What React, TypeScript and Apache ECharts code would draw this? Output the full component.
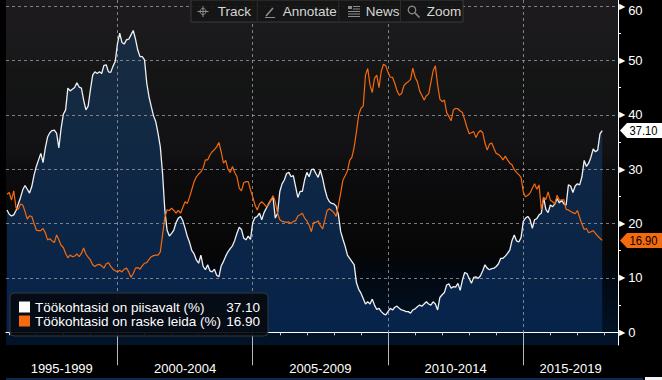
import React, { useEffect, useRef } from 'react';
import * as echarts from 'echarts';

// monthly observations, first one = Dec 1995
const startYear = 1995 + 11 / 12;

const piisavalt = [
  22.5, 21.7, 21.4, 21.6, 22.4, 23.6, 24.8, 26.2, 27.0, 26.3,
  25.6, 26.8, 28.9, 30.5, 31.7, 32.9, 31.2, 33.9, 35.9, 36.7,
  37.1, 37.2, 36.6, 33.9, 37.5, 40.1, 40.9, 44.9, 44.4, 44.7,
  45.0, 45.9, 45.1, 44.9, 42.7, 40.9, 41.6, 44.6, 47.3, 47.9,
  47.6, 47.9, 47.6, 49.1, 49.2, 47.9, 47.8, 48.9, 49.8, 53.1,
  55.0, 53.3, 53.0, 53.8, 53.9, 54.7, 55.5, 53.9, 51.9, 50.7,
  50.7, 50.1, 45.8, 43.3, 41.5, 39.8, 38.7, 36.6, 34.1, 29.2,
  22.5, 18.8, 17.7, 18.2, 18.8, 20.2, 21.0, 21.3, 20.5, 19.1,
  17.6, 16.5, 15.0, 14.4, 13.3, 12.7, 14.2, 12.1, 11.5, 12.4,
  11.3, 11.1, 11.6, 10.5, 10.2, 12.2, 13.0, 14.0, 14.8, 15.4,
  15.9, 16.9, 18.2, 19.3, 18.9, 17.3, 17.0, 17.7, 17.1, 20.2,
  21.1, 21.3, 21.9, 20.7, 22.0, 22.8, 23.6, 24.3, 24.8, 21.0,
  21.9, 25.9, 27.3, 28.0, 29.2, 29.4, 28.6, 28.8, 26.8, 24.8,
  25.9, 25.9, 28.0, 29.4, 28.6, 29.9, 30.0, 29.2, 28.5, 29.8,
  28.3, 26.3, 24.8, 24.0, 23.7, 23.6, 23.2, 21.6, 18.5, 17.1,
  15.8, 14.2, 13.6, 13.0, 12.4, 9.1, 7.9, 7.2, 6.2, 5.2,
  5.6, 5.2, 6.1, 5.0, 4.2, 4.4, 3.8, 3.4, 3.2, 3.8,
  4.4, 4.1, 4.6, 4.8, 4.4, 4.1, 4.0, 3.8, 3.8, 3.5,
  4.1, 4.3, 4.7, 5.0, 4.8, 5.2, 5.6, 5.2, 5.0, 5.6,
  5.2, 4.1, 6.4, 6.9, 7.3, 8.7, 8.9, 8.1, 8.4, 8.3,
  9.0, 7.7, 9.6, 11.0, 10.8, 9.9, 9.0, 10.1, 10.2, 9.9,
  10.4, 11.3, 12.4, 11.8, 11.5, 11.7, 11.8, 12.1, 12.6, 13.6,
  13.6, 14.0, 14.5, 15.1, 16.9, 17.9, 16.8, 16.6, 17.4, 20.4,
  21.0, 21.3, 20.7, 19.1, 20.7, 20.9, 21.6, 21.9, 24.8, 22.6,
  22.0, 23.4, 23.1, 23.6, 24.6, 23.8, 24.3, 23.6, 23.4, 27.1,
  26.9, 25.7, 26.9, 27.3, 27.1, 28.6, 31.6, 30.5, 31.1, 32.2,
  33.7, 33.2, 33.5, 36.5, 37.1,
];

const raskeLeida = [
  25.4, 25.7, 24.3, 26.0, 22.9, 22.6, 23.6, 23.4, 22.2, 20.8,
  21.4, 21.3, 20.0, 18.8, 18.7, 18.7, 19.1, 18.3, 17.0, 17.2,
  16.8, 16.5, 17.9, 17.0, 16.0, 15.6, 14.5, 13.7, 14.2, 13.9,
  14.0, 14.4, 13.9, 14.5, 15.5, 14.4, 13.8, 13.3, 12.4, 12.1,
  12.4, 12.5, 12.2, 11.8, 12.6, 12.8, 12.1, 11.6, 11.3, 11.1,
  11.4, 11.1, 11.6, 11.8, 11.1, 10.1, 10.8, 11.8, 11.9, 11.6,
  12.2, 12.7, 12.8, 13.4, 13.9, 14.1, 14.2, 14.2, 14.8, 17.9,
  21.1, 22.5, 22.4, 22.8, 22.4, 21.9, 22.4, 21.9, 23.0, 24.0,
  23.7, 24.9, 26.3, 27.7, 28.6, 29.1, 29.5, 30.2, 31.7, 31.7,
  32.6, 33.2, 33.6, 34.1, 34.9, 33.2, 31.1, 31.6, 30.0, 29.4,
  30.5, 29.4, 28.6, 26.5, 26.0, 27.5, 27.7, 27.7, 26.2, 24.9,
  23.4, 22.5, 23.6, 24.0, 23.6, 23.1, 23.4, 24.3, 25.1, 24.0,
  21.9, 20.7, 20.4, 20.3, 20.2, 20.3, 20.0, 20.4, 20.5, 21.4,
  21.6, 21.9, 21.0, 20.5, 19.7, 18.5, 20.2, 20.2, 20.5, 19.6,
  19.0, 20.7, 22.4, 22.7, 22.4, 22.0, 21.3, 23.4, 25.6, 28.0,
  28.8, 29.7, 31.6, 32.2, 34.1, 36.9, 40.0, 41.2, 41.6, 47.3,
  48.5, 45.5, 44.1, 46.7, 47.3, 45.0, 48.0, 49.3, 49.0, 47.8,
  46.9, 46.9, 45.8, 44.4, 43.6, 43.9, 45.3, 45.8, 46.1, 46.5,
  48.6, 46.9, 46.1, 44.4, 43.6, 42.7, 43.5, 43.8, 45.9, 48.1,
  49.0, 45.5, 42.9, 42.4, 42.7, 40.4, 39.7, 38.9, 40.9, 41.2,
  41.1, 40.7, 40.4, 39.1, 37.7, 36.5, 36.7, 36.9, 35.8, 36.7,
  37.1, 36.7, 34.8, 33.5, 34.6, 34.8, 33.8, 32.9, 32.7, 32.3,
  31.7, 32.4, 31.7, 31.1, 30.8, 29.9, 29.4, 29.0, 28.5, 25.8,
  24.9, 25.2, 25.6, 26.5, 27.3, 26.3, 27.1, 22.5, 24.8, 24.4,
  25.8, 24.3, 24.0, 23.6, 25.2, 24.3, 24.3, 24.4, 22.6, 22.5,
  22.2, 22.0, 21.8, 22.4, 21.1, 19.9, 18.9, 19.1, 18.3, 18.5,
  18.7, 18.2, 17.7, 17.3, 16.9,
];

const seriesNames = ['Töökohtasid on piisavalt (%)', 'Töökohtasid on raske leida (%)'];
const seriesColors = ['#ffffff', '#f46a0c'];
const periodLabels = ['1995-1999', '2000-2004', '2005-2009', '2010-2014', '2015-2019'];
const periodBounds = [2000, 2005, 2010, 2015];
const yearTicks = [1996, 1997, 1998, 1999, 2000, 2001, 2002, 2003, 2004, 2005, 2006, 2007,
  2008, 2009, 2010, 2011, 2012, 2013, 2014, 2015, 2016, 2017, 2018];
const yTicks = [0, 10, 20, 30, 40, 50, 60];
const yMinorTicks = [5, 15, 25, 35, 45, 55];
const toolbarItems = ['Track', 'Annotate', 'News', 'Zoom'];

const X_MIN = 1995.88;
const X_MAX = 2018.5;
const Y_MIN = -2.34;
const Y_MAX = 61.11;
const FONT = '"Liberation Sans", Arial, sans-serif';

export default function App() {
  const ref = useRef<HTMLDivElement>(null);

  useEffect(() => {
    const chart = echarts.init(ref.current!, null, { renderer: 'svg' });
    const toPairs = (arr: number[]) => arr.map((v, i) => [startYear + i / 12, v]);
    const lastW = piisavalt[piisavalt.length - 1];
    const lastO = raskeLeida[raskeLeida.length - 1];
    const lastVals: Record<string, number> = { [seriesNames[0]]: lastW, [seriesNames[1]]: lastO };
    const labelCenters = [
      (X_MIN + periodBounds[0]) / 2,
      ...periodBounds.slice(0, -1).map((b, i) => (b + periodBounds[i + 1]) / 2),
      (periodBounds[periodBounds.length - 1] + X_MAX) / 2,
    ];
    const periodFor = (v: number) => {
      let best = 0;
      labelCenters.forEach((c, i) => {
        if (Math.abs(c - v) < Math.abs(labelCenters[best] - v)) best = i;
      });
      return periodLabels[best];
    };
    const dashed = { show: true, lineStyle: { color: '#9a9a9a', type: [3, 3] as any, width: 1, opacity: 0.8 } };
    const gridRect = { left: 6, right: 44, top: 0, bottom: 35, outerBoundsMode: 'none' as any };
    const yMaxTick = yTicks[yTicks.length - 1];

    const option: any = {
      animation: false,
      backgroundColor: '#000',
      textStyle: { fontFamily: FONT },
      grid: [
        {
          ...gridRect,
          show: true,
          borderWidth: 0,
          backgroundColor: {
            type: 'linear', x: 0, y: 0, x2: 0, y2: 1,
            colorStops: [
              { offset: 0, color: '#1d1b1e' },
              { offset: 0.17, color: '#19181a' },
              { offset: 0.2, color: '#141514' },
              { offset: 0.32, color: '#141416' },
              { offset: 0.44, color: '#121215' },
              { offset: 0.5, color: '#0c0c0e' },
              { offset: 0.65, color: '#090909' },
              { offset: 0.74, color: '#060607' },
              { offset: 0.78, color: '#02070f' },
              { offset: 1, color: '#02142a' },
            ],
          },
        },
        { ...gridRect },
      ],
      xAxis: [
        {
          type: 'value', gridIndex: 0, position: 'bottom', min: X_MIN, max: X_MAX, z: 3,
          axisLine: { show: true, lineStyle: { color: '#ffffff', width: 1 } },
          axisTick: { show: true, customValues: yearTicks, length: 3, lineStyle: { color: '#d0d0d0' } },
          axisLabel: {
            show: true, customValues: labelCenters, margin: 17,
            color: '#ffffff', fontSize: 13, fontFamily: FONT,
            formatter: (v: number) => periodFor(v),
          },
          splitLine: { show: false },
        },
        {
          type: 'value', gridIndex: 0, position: 'top', min: X_MIN, max: X_MAX, z: 3,
          axisLine: { show: false },
          axisTick: { show: false, customValues: periodBounds },
          axisLabel: { show: false },
          splitLine: dashed,
        },
        {
          type: 'value', gridIndex: 1, position: 'bottom', min: X_MIN, max: X_MAX, z: 3,
          axisLine: { show: false },
          axisTick: { show: true, customValues: periodBounds, length: 33, lineStyle: { color: '#b8b8b8', width: 1 } },
          axisLabel: { show: false },
          splitLine: { show: false },
        },
      ],
      yAxis: [
        {
          type: 'value', gridIndex: 0, position: 'right', min: Y_MIN, max: Y_MAX, z: 3,
          axisLine: { show: true, lineStyle: { color: '#ffffff', width: 1 } },
          axisTick: { show: false, customValues: yTicks },
          axisLabel: {
            show: true, customValues: yTicks, margin: 1,
            formatter: (v: number) => (v === yMaxTick ? `{t|▶}{m|${v}}` : `{t|▶}{n|${v}}`),
            rich: {
              t: { fontFamily: '"DejaVu Sans", sans-serif', fontSize: 8, color: '#ffffff', lineHeight: 14, verticalAlign: 'middle' },
              n: { fontFamily: FONT, fontSize: 13, color: '#ffffff', padding: [0, 0, 0, 3], lineHeight: 14, verticalAlign: 'middle' },
              m: { fontFamily: FONT, fontSize: 13, color: '#ffffff', padding: [8, 0, 0, 3], lineHeight: 14, verticalAlign: 'middle' },
            },
          },
          splitLine: dashed,
        },
        {
          type: 'value', gridIndex: 1, position: 'right', min: Y_MIN, max: Y_MAX, z: 3,
          axisLine: { show: false },
          axisTick: { show: true, customValues: yMinorTicks, length: 3, lineStyle: { color: '#ffffff' } },
          axisLabel: { show: false },
          splitLine: { show: false },
        },
      ],
      legend: {
        show: true,
        orient: 'vertical',
        left: 10,
        top: 293,
        z: 10,
        padding: [7, 8, 8, 9],
        itemGap: 0,
        itemWidth: 11,
        itemHeight: 11,
        icon: 'rect',
        selectedMode: false,
        backgroundColor: 'rgba(7,11,17,0.92)',
        borderColor: '#33383e',
        borderWidth: 1,
        borderRadius: 4,
        data: seriesNames,
        formatter: (name: string) => `{n|${name}}{v|${lastVals[name].toFixed(2)}}`,
        textStyle: {
          color: '#ffffff',
          rich: {
            n: { fontFamily: FONT, fontSize: 13.5, color: '#ffffff', width: 188, lineHeight: 16 },
            v: { fontFamily: FONT, fontSize: 13.5, color: '#ffffff', width: 37, align: 'right', lineHeight: 16 },
          },
        },
      },
      series: [
        {
          name: seriesNames[0],
          type: 'line',
          xAxisIndex: 0,
          yAxisIndex: 0,
          data: toPairs(piisavalt),
          showSymbol: false,
          color: seriesColors[0],
          lineStyle: { width: 0, opacity: 0 },
          areaStyle: {
            color: {
              type: 'linear', x: 0, y: 0, x2: 0, y2: 345, global: true,
              colorStops: [
                { offset: 0, color: '#1a2b3e' },
                { offset: 0.3, color: '#142a42' },
                { offset: 0.6, color: '#0d2646' },
                { offset: 1, color: '#06234b' },
              ],
            },
            opacity: 1,
          },
          z: 1,
        },
        {
          name: seriesNames[0],
          type: 'line',
          xAxisIndex: 0,
          yAxisIndex: 0,
          data: toPairs(piisavalt),
          showSymbol: false,
          color: seriesColors[0],
          lineStyle: { color: '#eef0f3', width: 1.3 },
          z: 4,
        },
        {
          name: seriesNames[1],
          type: 'line',
          xAxisIndex: 0,
          yAxisIndex: 0,
          data: toPairs(raskeLeida),
          showSymbol: false,
          color: seriesColors[1],
          lineStyle: { color: seriesColors[1], width: 1.2 },
          z: 5,
        },
      ],
    };

    chart.setOption(option);

    const axisX = chart.convertToPixel({ xAxisIndex: 0 }, X_MAX) as number;
    const yW = chart.convertToPixel({ yAxisIndex: 0 }, lastW) as number;
    const yO = chart.convertToPixel({ yAxisIndex: 0 }, lastO) as number;

    const tag = (id: string, y: number, fill: string, text: string) => [
      {
        type: 'polygon', id: id + 'p', z: 100,
        shape: { points: [[axisX + 2, y], [axisX + 9, y - 7.5], [662, y - 7.5], [662, y + 7.5], [axisX + 9, y + 7.5]] },
        style: { fill },
      },
      {
        type: 'text', id: id + 't', z: 101, x: axisX + 11.5, y, scaleX: 0.86,
        style: { text, fill: '#000', font: `13px ${FONT}`, verticalAlign: 'middle', align: 'left' },
      },
    ];

    // toolbar
    const tbLeft = 191;
    const segW = [65.7, 81.6, 61.7, 63];
    const textX = [217.7, 282.7, 365.7, 426.7];
    const tb: any[] = [
      { type: 'rect', id: 'tbbg', z: 90, shape: { x: tbLeft, y: 0, width: 272, height: 22 }, style: { fill: 'rgba(21,21,21,0.92)', stroke: '#3a3a3a', lineWidth: 1 } },
    ];
    let sx = tbLeft;
    segW.forEach((w, i) => {
      if (i > 0) {
        tb.push({ type: 'line', id: 'tbsep' + i, z: 91, shape: { x1: sx + 0.5, y1: 1, x2: sx + 0.5, y2: 21 }, style: { stroke: '#2c2c2c', lineWidth: 1 } });
      }
      tb.push({
        type: 'text', id: 'tbt' + i, z: 92, x: textX[i], y: 11.5,
        style: { text: toolbarItems[i], fill: '#d6d6d6', font: `13.5px ${FONT}`, verticalAlign: 'middle', align: 'left' },
      });
      sx += w;
    });
    const ic = '#8c8c8c';
    tb.push(
      { type: 'circle', id: 'ic1c', z: 92, shape: { cx: 203, cy: 11.5, r: 3 }, style: { fill: 'none', stroke: ic, lineWidth: 1 } },
      { type: 'line', id: 'ic1h', z: 92, shape: { x1: 197.5, y1: 11.5, x2: 208.5, y2: 11.5 }, style: { stroke: ic, lineWidth: 1 } },
      { type: 'line', id: 'ic1v', z: 92, shape: { x1: 203, y1: 6, x2: 203, y2: 17 }, style: { stroke: ic, lineWidth: 1 } },
      { type: 'line', id: 'ic2a', z: 92, shape: { x1: 266, y1: 16, x2: 273, y2: 8 }, style: { stroke: ic, lineWidth: 1.6 } },
      { type: 'line', id: 'ic2b', z: 92, shape: { x1: 265, y1: 17.5, x2: 275, y2: 17.5 }, style: { stroke: ic, lineWidth: 1 } },
      { type: 'rect', id: 'ic3a', z: 92, shape: { x: 348, y: 6, width: 4, height: 3 }, style: { fill: ic } },
      { type: 'line', id: 'ic3b', z: 92, shape: { x1: 353, y1: 6.5, x2: 360, y2: 6.5 }, style: { stroke: ic, lineWidth: 1 } },
      { type: 'line', id: 'ic3c', z: 92, shape: { x1: 353, y1: 9, x2: 360, y2: 9 }, style: { stroke: ic, lineWidth: 1 } },
      { type: 'line', id: 'ic3d', z: 92, shape: { x1: 348, y1: 11.5, x2: 360, y2: 11.5 }, style: { stroke: ic, lineWidth: 1 } },
      { type: 'line', id: 'ic3e', z: 92, shape: { x1: 348, y1: 14, x2: 360, y2: 14 }, style: { stroke: ic, lineWidth: 1 } },
      { type: 'line', id: 'ic3f', z: 92, shape: { x1: 348, y1: 16.5, x2: 360, y2: 16.5 }, style: { stroke: ic, lineWidth: 1 } },
      { type: 'circle', id: 'ic4c', z: 92, shape: { cx: 412, cy: 10, r: 3.8 }, style: { fill: 'none', stroke: ic, lineWidth: 1.2 } },
      { type: 'line', id: 'ic4l', z: 92, shape: { x1: 415, y1: 13, x2: 419.5, y2: 17.5 }, style: { stroke: ic, lineWidth: 1.6 } },
    );

    const bottomBar = [
      { type: 'rect', id: 'bb1', z: 80, shape: { x: 6, y: 378, width: 637, height: 2 }, style: { fill: '#0c2a50' } },
      { type: 'rect', id: 'bb2', z: 80, shape: { x: 645, y: 377, width: 17, height: 3 }, style: { fill: '#f2f2f2' } },
    ];

    chart.setOption({
      graphic: [
        ...tb,
        ...tag('tw', yW, '#ffffff', lastW.toFixed(2)),
        ...tag('to', yO, seriesColors[1], lastO.toFixed(2)),
        ...bottomBar,
      ],
    });

    return () => chart.dispose();
  }, []);

  return (
    <div
      ref={ref}
      style={{ position: 'fixed', left: 0, top: 0, width: 662, height: 380, background: '#000' }}
    />
  );
}
